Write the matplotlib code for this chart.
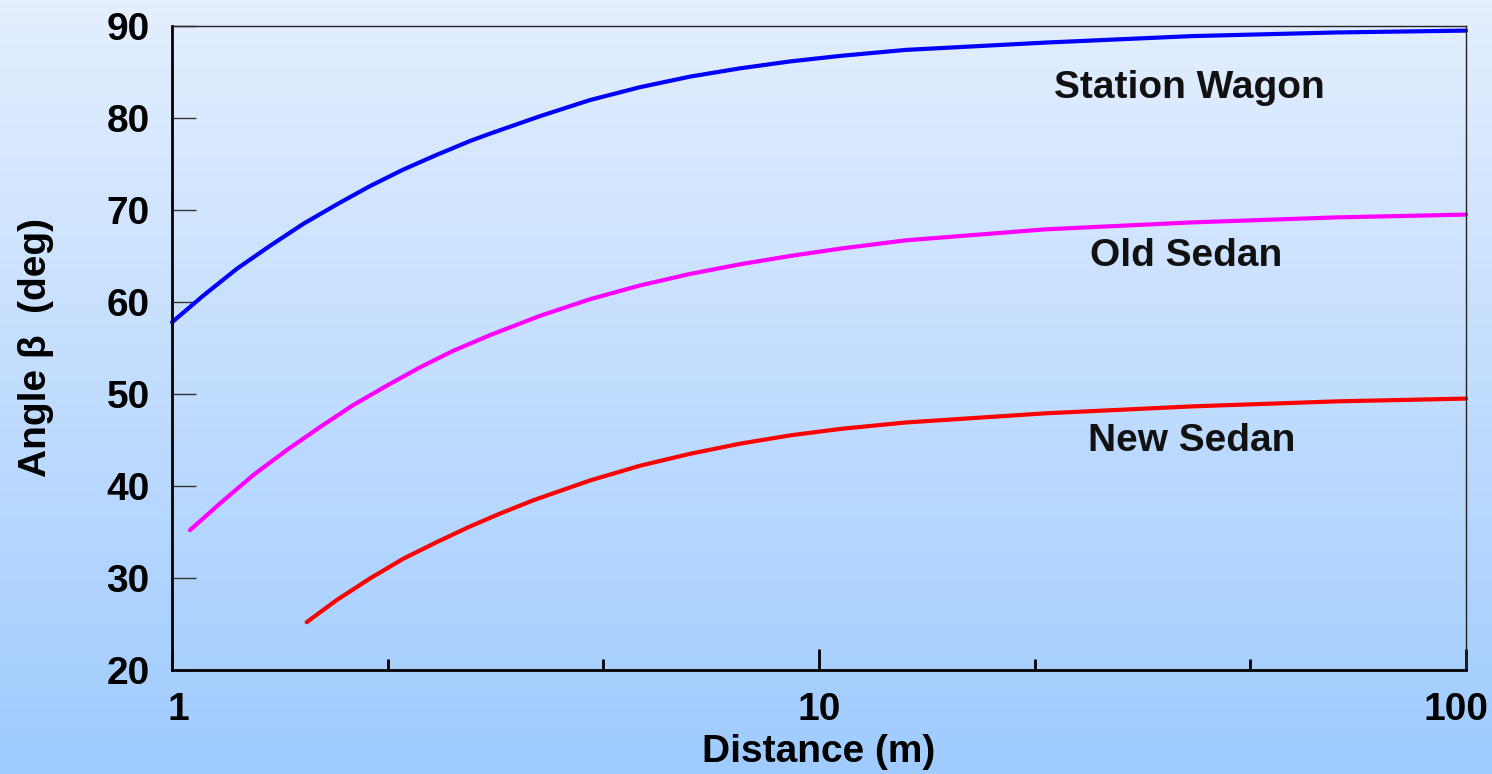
import numpy as np
import matplotlib
matplotlib.use("Agg")
import matplotlib.pyplot as plt
import matplotlib.transforms as mtransforms
from matplotlib.colors import LinearSegmentedColormap

plt.rcParams['font.family'] = ['Liberation Sans', 'DejaVu Sans']
plt.rcParams['font.weight'] = 'bold'

# Distance (m) and angle beta (deg) for each vehicle type
wagon_x = [1.0, 1.118, 1.259, 1.417, 1.596, 1.797, 2.023, 2.278, 2.566, 2.888,
           3.101, 3.706, 4.426, 5.288, 6.319, 7.55, 9.02, 10.78, 13.6, 22.41,
           37.64, 63.18, 100.0]
wagon_y = [57.8, 60.7, 63.6, 66.1, 68.5, 70.6, 72.6, 74.4, 76.0, 77.5,
           78.3, 80.2, 81.95, 83.35, 84.5, 85.4, 86.15, 86.75, 87.4, 88.2,
           88.9, 89.3, 89.5]

old_x = [1.066, 1.186, 1.336, 1.504, 1.693, 1.906, 2.147, 2.417, 2.721, 3.101,
         3.706, 4.426, 5.288, 6.319, 7.55, 9.02, 10.78, 13.6, 22.41, 37.64,
         63.18, 100.0]
old_y = [35.2, 38.1, 41.2, 43.9, 46.4, 48.8, 50.9, 52.9, 54.7, 56.4,
         58.5, 60.3, 61.8, 63.05, 64.1, 65.0, 65.8, 66.7, 67.9, 68.65,
         69.2, 69.5]

new_x = [1.615, 1.797, 2.023, 2.278, 2.566, 2.888, 3.213, 3.618, 4.426, 5.288,
         6.319, 7.55, 9.02, 10.78, 13.6, 22.41, 37.64, 63.18, 100.0]
new_y = [25.2, 27.6, 29.95, 32.1, 33.9, 35.6, 37.0, 38.45, 40.6, 42.2,
         43.5, 44.6, 45.5, 46.2, 46.9, 47.9, 48.65, 49.2, 49.5]

labels = ['Station Wagon', 'Old Sedan', 'New Sedan']
label_pos = [(37.3, 83.3), (36.9, 65.0), (37.7, 44.85)]

fig = plt.figure(figsize=(14.92, 7.74), dpi=100)

# vertical gradient backdrop over the whole figure
bg = fig.add_axes([0, 0, 1, 1], zorder=-10)
grad = LinearSegmentedColormap.from_list('sky', ['#9fcbfe', '#e4efff'])
bg.imshow(np.linspace(0, 1, 256).reshape(-1, 1), aspect='auto', cmap=grad,
          origin='lower', extent=[0, 1, 0, 1])
bg.axis('off')

ax = fig.add_axes([0.1153, 0.1344, 0.8673, 0.832])
ax.patch.set_alpha(0)

for xs, ys, c in [(wagon_x, wagon_y, '#0000ff'),
                  (old_x, old_y, '#ff00ff'),
                  (new_x, new_y, '#ff0000')]:
    ax.plot(xs, ys, color=c, lw=3, solid_capstyle='round',
            solid_joinstyle='round', clip_on=False)

for txt, (lx, ly) in zip(labels, label_pos):
    ax.text(lx, ly, txt, ha='center', va='center', fontsize=28,
            fontweight='bold', color='#111111')

ax.set_xscale('log')
ax.set_xlim(1, 100)
ax.set_ylim(20, 90)

ax.set_xticks([1, 10, 100])
ax.set_xticklabels(['1', '10', '100'])
ax.set_xticks([10 ** (k / 3) for k in (1, 2, 4, 5)], minor=True)
ax.xaxis.set_minor_formatter(plt.NullFormatter())
ax.set_yticks(range(20, 91, 10))

ax.tick_params(axis='x', which='major', direction='in', length=15, width=2,
               labelsize=28, pad=16)
ax.tick_params(axis='x', which='minor', direction='in', length=8, width=2)
ax.tick_params(axis='y', direction='in', length=17, width=1, color='#333333',
               labelsize=28, pad=16)
for lbl in ax.get_xticklabels() + ax.get_yticklabels():
    lbl.set_fontweight('bold')

# nudge the end labels of the x axis so they sit as in the slide
xl = ax.get_xticklabels()
xl[0].set_transform(xl[0].get_transform() +
                    mtransforms.ScaledTranslation(6 / 100, 0, fig.dpi_scale_trans))
xl[-1].set_transform(xl[-1].get_transform() +
                     mtransforms.ScaledTranslation(-10 / 100, 0, fig.dpi_scale_trans))

for side in ('left', 'bottom'):
    ax.spines[side].set_linewidth(2)
for side in ('top', 'right'):
    ax.spines[side].set_linewidth(1)
    ax.spines[side].set_color('#222222')

ax.set_xlabel('Distance (m)', fontsize=28, fontweight='bold', labelpad=4)
ax.set_ylabel('Angle β  (deg)', fontsize=28, fontweight='bold', labelpad=38)

fig.savefig('out.png', dpi=100)
